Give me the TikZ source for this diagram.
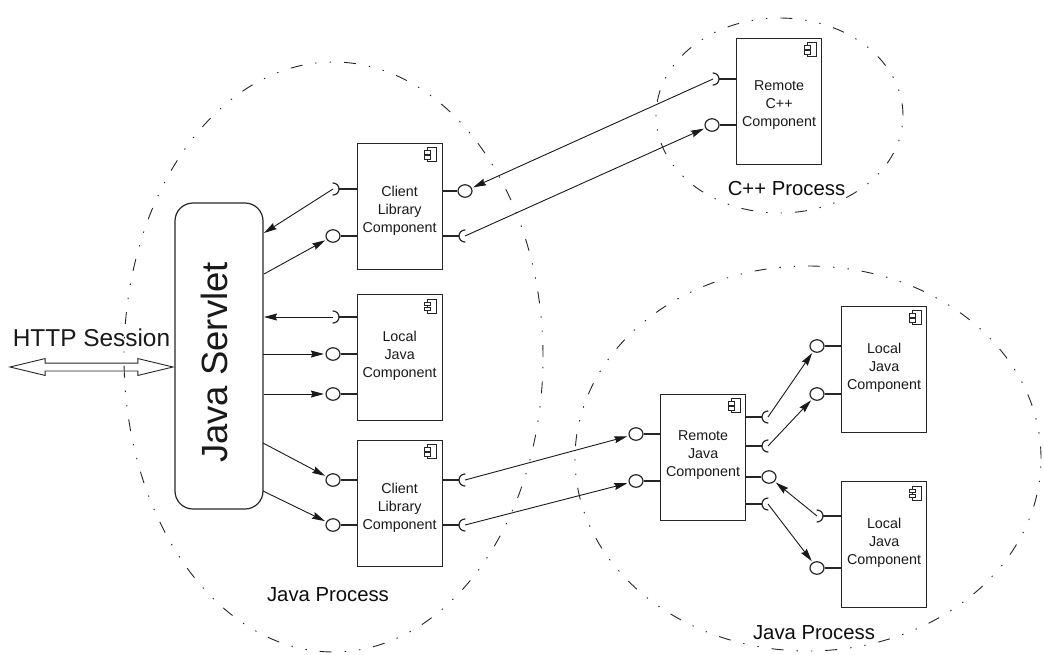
\documentclass[tikz,border=0pt]{standalone}
\usepackage{fontspec}
\setmainfont{Liberation Sans}
\usetikzlibrary{shapes.geometric,shapes.arrows,arrows.meta,calc}
\tikzset{
  x=1pt,y=-1pt,
  lw/.style={line width=1.2pt,draw=black!85},
  box/.style={lw,rectangle,minimum width=85pt,minimum height=126pt,anchor=north west,inner sep=0pt},
  lbl/.style={align=center,font=\fontsize{14.3}{18}\selectfont,inner sep=0pt,text=black!90},
  proc/.style={font=\fontsize{20.3}{24}\selectfont,inner sep=0pt,text=black!95},
  plug/.style={ellipse,draw=black!85,line width=1.2pt,minimum width=14pt,minimum height=12.5pt,inner sep=0pt},
  stem/.style={lw},
  sock/.style={lw,line cap=round},
  arr/.style={draw=black!90,line width=.9pt,-{Stealth[length=13pt,width=7pt,inset=1.5pt]},shorten >=1.5pt},
  region/.style={ellipse,draw=black!85,line width=.9pt,inner sep=0pt,
    dash pattern=on 12pt off 13pt on 1.4pt off 13pt on 1.4pt off 13pt},
}
% box with component icon and text
\newcommand{\compbox}[5]{%
  \node[box] (#1) at (#2,#3) {};
  \node[lbl] (#1t) at ($(#1.north)+(0,#4)$) {#5};
  \draw[lw,line width=.9pt] ([shift={(-15,5)}]#1.north east) rectangle ([shift={(-6,19)}]#1.north east);
  \draw[lw,line width=.9pt,fill=white] ([shift={(-18,8)}]#1.north east) rectangle ([shift={(-12,11.5)}]#1.north east);
  \draw[lw,line width=.9pt,fill=white] ([shift={(-18,13)}]#1.north east) rectangle ([shift={(-12,16.5)}]#1.north east);
}
% plug on the left / right side of a box
\newcommand{\plugL}[4]{\node[plug] (#1) at (#3,#4) {}; \draw[stem] (#1.east) -- (#2.west |- #1.east);}
\newcommand{\plugR}[4]{\node[plug] (#1) at (#3,#4) {}; \draw[stem] (#1.west) -- (#2.east |- #1.west);}
% socket opening left: ")" ; stem goes right to box west
\newcommand{\sockL}[4]{\coordinate (#1) at (#3,#4);
  \draw[sock] ([shift={(-90:6)}]#1) arc[start angle=-90,end angle=90,radius=6];
  \draw[stem] ([shift={(6,0)}]#1) -- (#2.west |- #1);}
% socket opening right: "(" ; stem goes left to box east
\newcommand{\sockR}[4]{\coordinate (#1) at (#3,#4);
  \draw[sock] ([shift={(90:6)}]#1) arc[start angle=90,end angle=270,radius=6];
  \draw[stem] ([shift={(-6,0)}]#1) -- (#2.east |- #1);}
\begin{document}
\begin{tikzpicture}
\useasboundingbox (0,0) rectangle (1044,654);

% process regions
\node[region,minimum width=419pt,minimum height=590pt] (left) at (333.5,357) {};
\node[region,minimum width=247pt,minimum height=195pt] (cpp) at (779.5,115.5) {};
\node[region,minimum width=466pt,minimum height=385pt] (lr) at (808,458.5) {};

% servlet
\node[draw=black!85,line width=1.2pt,rectangle,rounded corners=18pt,minimum width=88pt,minimum height=306pt,inner sep=0pt] (servlet) at (219,356) {};
\node[rotate=90,font=\fontsize{36.5}{40}\selectfont,inner sep=0pt,text=black!90] (servlett) at (214,362.5) {Java Servlet};

% HTTP
\node[font=\fontsize{24.4}{28}\selectfont,inner sep=0pt,text=black!90] (http) at (91.5,338) {HTTP Session};
\node[double arrow,draw=black!85,line width=.9pt,minimum height=163pt,minimum width=16pt,inner sep=3.5pt,
  double arrow head extend=4.5pt,double arrow tip angle=27] (httparrow) at (91.5,367) {};

% components
\compbox{c1}{356.5}{142.5}{68}{Client\\Library\\Component}
\compbox{lj}{356.5}{294}{62}{Local\\Java\\Component}
\compbox{c2}{356.5}{439.5}{68}{Client\\Library\\Component}
\compbox{rc}{736}{37.5}{68}{Remote\\C++\\Component}
\compbox{rj}{660}{393.5}{62}{Remote\\Java\\Component}
\compbox{t}{841}{305.5}{62}{Local\\Java\\Component}
\compbox{b}{841}{481}{62}{Local\\Java\\Component}

% interfaces
\sockL{c1a}{c1}{333}{189}
\plugL{c1b}{c1}{333}{236}
\plugR{c1c}{c1}{465}{191}
\sockR{c1d}{c1}{465}{236}

\sockL{lja}{lj}{333}{317}
\plugL{ljb}{lj}{333}{354}
\plugL{ljc}{lj}{333}{394}

\plugL{c2a}{c2}{333}{480}
\plugL{c2b}{c2}{333}{525}
\sockR{c2c}{c2}{465}{480}
\sockR{c2d}{c2}{465}{525}

\sockL{rca}{rc}{713}{79}
\plugL{rcb}{rc}{712}{125}

\plugL{rja}{rj}{636}{434}
\plugL{rjb}{rj}{636}{481}
\sockR{rjc}{rj}{768}{417}
\sockR{rjd}{rj}{768}{446}
\plugR{rje}{rj}{769}{477}
\sockR{rjf}{rj}{768}{504}

\plugL{ta}{t}{817}{346}
\plugL{tb}{t}{817}{394}
\sockL{ba}{b}{817}{516}
\plugL{bb}{b}{817}{568}

% free ends at the servlet
\coordinate (sv1) at (264,233);
\coordinate (sv2) at (264,274);
\coordinate (sv3) at (264,317);
\coordinate (sv4) at (263,354);
\coordinate (sv5) at (264,394);
\coordinate (sv6) at (263,443);
\coordinate (sv7) at (263,491);

% connectors
\draw[arr,shorten >=0pt] (c1a) -- (sv1);
\draw[arr] (sv2) -- (c1b);
\draw[arr,shorten >=0pt] (lja) -- (sv3);
\draw[arr] (sv4) -- (ljb);
\draw[arr] (sv5) -- (ljc);
\draw[arr] (sv6) -- (c2a);
\draw[arr] (sv7) -- (c2b);
\draw[arr] (rca) -- (c1c);
\draw[arr] (c1d) -- (rcb);
\draw[arr] (c2c) -- (rja);
\draw[arr] (c2d) -- (rjb);
\draw[arr] (rjc) -- (ta);
\draw[arr] (rjd) -- (tb);
\draw[arr] (ba) -- (rje);
\draw[arr] (rjf) -- (bb);

% process labels
\node[proc] (p1) at (328,595) {Java Process};
\node[proc] (p2) at (786.5,188.5) {C++ Process};
\node[proc] (p3) at (814,633) {Java Process};
\end{tikzpicture}
\end{document}
